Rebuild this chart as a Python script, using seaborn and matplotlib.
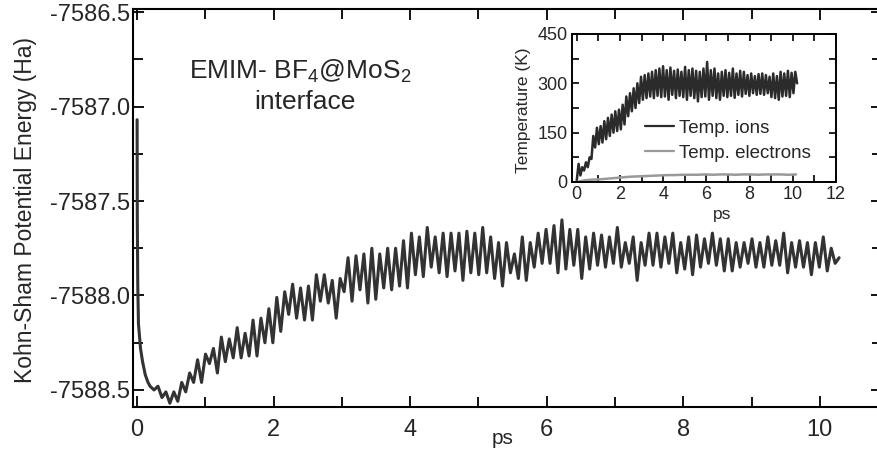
import numpy as np
import pandas as pd
import seaborn as sns
import matplotlib.pyplot as plt
from matplotlib.ticker import MultipleLocator, FormatStrFormatter

# Kohn-Sham energy (Ha): steep start, then oscillating part on a 0.058 ps grid
t_start = [0.0, 0.003, 0.01, 0.02, 0.05, 0.08, 0.12, 0.16]
e_start = [-7587.07, -7587.60, -7587.95, -7588.15, -7588.28, -7588.35, -7588.42, -7588.46]

e_osc = [
    -7588.48, -7588.50, -7588.48, -7588.54, -7588.51, -7588.57, -7588.51, -7588.56,
    -7588.46, -7588.51, -7588.41, -7588.46, -7588.34, -7588.46, -7588.31, -7588.36,
    -7588.28, -7588.41, -7588.22, -7588.35, -7588.23, -7588.33, -7588.17, -7588.33,
    -7588.20, -7588.32, -7588.13, -7588.32, -7588.12, -7588.25, -7588.07, -7588.25,
    -7588.01, -7588.19, -7587.98, -7588.10, -7587.94, -7588.12, -7587.96, -7588.13,
    -7587.95, -7588.13, -7587.89, -7588.03, -7587.89, -7588.04, -7587.92, -7588.12,
    -7587.91, -7587.98, -7587.80, -7588.03, -7587.79, -7587.97, -7587.78, -7588.04,
    -7587.75, -7588.02, -7587.78, -7587.96, -7587.75, -7587.97, -7587.75, -7587.95,
    -7587.71, -7587.96, -7587.67, -7587.89, -7587.69, -7587.90, -7587.64,
    -7587.85, -7587.69, -7587.88, -7587.67, -7587.90, -7587.67, -7587.87, -7587.67,
    -7587.92, -7587.66, -7587.88, -7587.67, -7587.89, -7587.64, -7587.88, -7587.69,
    -7587.91, -7587.72, -7587.95, -7587.72, -7587.88, -7587.78, -7587.91, -7587.69,
    -7587.92, -7587.72, -7587.85, -7587.67, -7587.83, -7587.65, -7587.83, -7587.63,
    -7587.88, -7587.60, -7587.86, -7587.65, -7587.84, -7587.65, -7587.91, -7587.69,
    -7587.86, -7587.67, -7587.84, -7587.68, -7587.85, -7587.69, -7587.83, -7587.64,
    -7587.85, -7587.72, -7587.83, -7587.69, -7587.92, -7587.72, -7587.84, -7587.67,
    -7587.84, -7587.67, -7587.85, -7587.69, -7587.83, -7587.67, -7587.88, -7587.72,
    -7587.86, -7587.69, -7587.89, -7587.68, -7587.85, -7587.70, -7587.83, -7587.67,
    -7587.84, -7587.70, -7587.87, -7587.70, -7587.87, -7587.72, -7587.85, -7587.72,
    -7587.83, -7587.70, -7587.85, -7587.72, -7587.85, -7587.69, -7587.84, -7587.71,
    -7587.84, -7587.67, -7587.88, -7587.72, -7587.85, -7587.71, -7587.85, -7587.72,
    -7587.89, -7587.72, -7587.85, -7587.69, -7587.87, -7587.75, -7587.83, -7587.80,
]

# inset: temperatures (K)
temp_ions = [
    5, 55, 20, 45, 35, 60, 45, 75, 70, 140, 105, 165, 115, 170, 120, 185, 130, 195,
    140, 205, 150, 215, 155, 220, 160, 235, 175, 260, 200, 270, 215, 285, 225, 300,
    240, 320, 250, 325, 255, 330, 260, 335, 255, 340, 262, 345, 258, 352, 260, 340,
    250, 348, 265, 338, 255, 342, 262, 335, 258, 350, 250, 340, 262, 345, 255, 338,
    245, 335, 258, 345, 260, 365, 250, 340, 262, 345, 255, 330, 250, 335, 262, 340,
    258, 332, 262, 345, 256, 330, 265, 338, 260, 335, 268, 325, 262, 330, 270, 322,
    265, 328, 268, 330, 265, 325, 270, 320, 258, 330, 255, 322, 250, 335, 260, 330,
    262, 338, 258, 332, 270, 335, 300,
]
temp_elec = [0, 5, 7, 8, 10, 12, 14, 16, 17, 18, 19, 20, 21, 21, 22, 22, 22, 23,
             22, 23, 23, 22, 23, 23, 22, 23, 23, 23, 22, 23]

t_osc = 0.19 + 0.058 * np.arange(len(e_osc))
energy = pd.DataFrame({"ps": np.concatenate([t_start, t_osc]),
                       "E": e_start + e_osc})
ions = pd.DataFrame({"ps": 0.085 * np.arange(len(temp_ions)), "T": temp_ions})
elec = pd.DataFrame({"ps": 0.35 * np.arange(len(temp_elec)), "T": temp_elec})

sns.set_theme(style="ticks")
plt.rcParams["font.family"] = ["Liberation Sans", "DejaVu Sans"]
plt.rcParams["axes.unicode_minus"] = False
plt.rcParams["axes.edgecolor"] = "black"

fig = plt.figure(figsize=(8.77, 4.54), dpi=100)
W, H = 877, 454

# main axes
ax = fig.add_axes([133 / W, 47 / H, 749 / W, 398 / H])
sns.lineplot(data=energy, x="ps", y="E", ax=ax, color="#333333", lw=2.2,
             estimator=None, sort=False, solid_joinstyle="round")
ax.set_xlim(-0.06, 10.91)
ax.set_ylim(-7588.59, -7586.484)
ax.xaxis.set_major_locator(MultipleLocator(2))
ax.xaxis.set_minor_locator(MultipleLocator(1))
ax.yaxis.set_major_locator(MultipleLocator(0.5))
ax.yaxis.set_minor_locator(MultipleLocator(0.25))
ax.yaxis.set_major_formatter(FormatStrFormatter("%.1f"))
ax.tick_params(which="both", direction="in", top=True, right=True,
               width=1.3, color="black")
ax.tick_params(which="major", length=8)
ax.tick_params(which="minor", length=7)
ax.tick_params(axis="y", labelsize=17, pad=2)
ax.tick_params(axis="x", labelsize=17, pad=9)
for s in ax.spines.values():
    s.set_linewidth(1.5)
ax.set_xlabel("ps", fontsize=15)
ax.xaxis.set_label_coords(0.493, -0.055)
ax.set_ylabel("Kohn-Sham Potential Energy (Ha)", fontsize=16.5)
ax.yaxis.set_label_coords(-0.128, 0.495)

ax.text(2.39, -7586.815, "EMIM- BF$_\\mathregular{4}$@MoS$_\\mathregular{2}$",
        fontsize=19, ha="center", va="center")
ax.text(2.46, -7586.975, "interface", fontsize=19, ha="center", va="center")

# inset
axin = fig.add_axes([572 / W, (H - 182) / H, 264 / W, 148 / H])
sns.lineplot(data=ions, x="ps", y="T", ax=axin, color="#2b2b2b", lw=1.8,
             estimator=None, sort=False, label="Temp. ions")
sns.lineplot(data=elec, x="ps", y="T", ax=axin, color="#999999", lw=1.8,
             estimator=None, sort=False, label="Temp. electrons")
axin.set_xlim(-0.22, 12)
axin.set_ylim(0, 450)
axin.xaxis.set_major_locator(MultipleLocator(2))
axin.xaxis.set_minor_locator(MultipleLocator(1))
axin.yaxis.set_major_locator(MultipleLocator(150))
axin.yaxis.set_minor_locator(MultipleLocator(75))
axin.tick_params(which="both", direction="in", top=True, right=True,
                 length=5, width=1.2, color="black", labelsize=13, pad=3)
for s in axin.spines.values():
    s.set_linewidth(1.4)
axin.set_xlabel("ps", fontsize=12.5)
axin.xaxis.set_label_coords(0.57, -0.17)
axin.set_ylabel("Temperature (K)", fontsize=12.5)
axin.yaxis.set_label_coords(-0.155, 0.486)
leg = axin.legend(loc="upper left", bbox_to_anchor=(0.275, 0.42), frameon=False,
                  fontsize=13.5, handlelength=1.55, handletextpad=0.3,
                  labelspacing=0.4, borderpad=0, borderaxespad=0)
for line in leg.get_lines():
    line.set_linewidth(1.6)

fig.savefig("out.png", dpi=100)
